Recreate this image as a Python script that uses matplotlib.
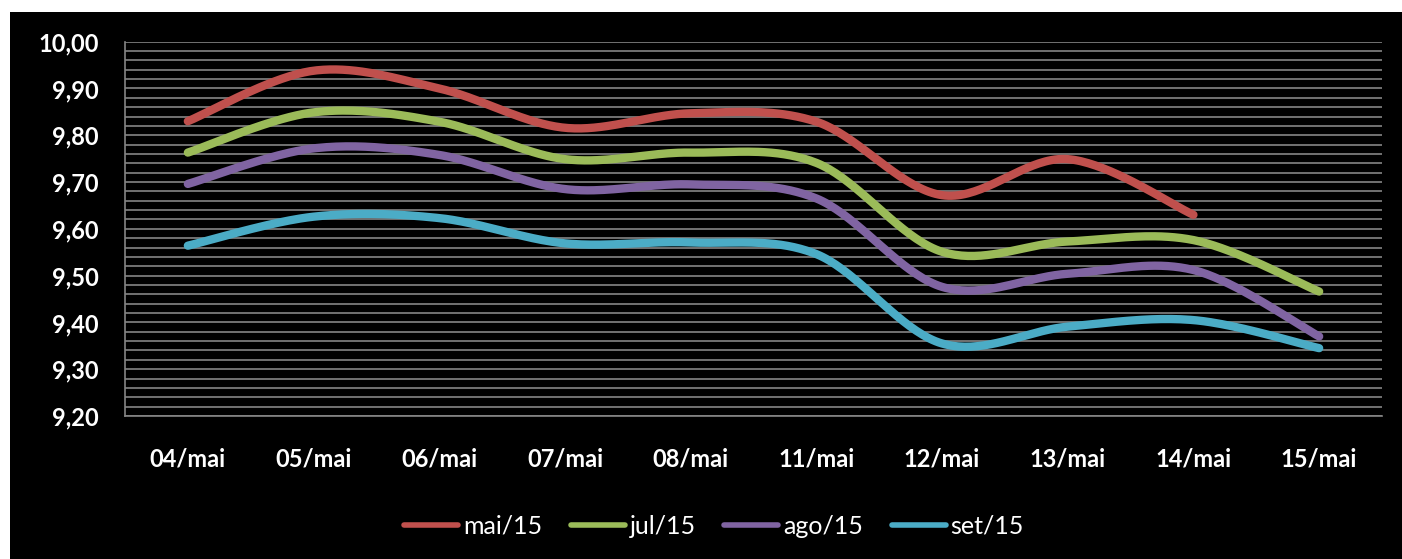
import numpy as np
import matplotlib
matplotlib.use("Agg")
import matplotlib.pyplot as plt
from matplotlib.patches import Rectangle
from matplotlib.ticker import MultipleLocator, FuncFormatter
from matplotlib.lines import Line2D

# Dates on the horizontal axis
categories = ["04/mai", "05/mai", "06/mai", "07/mai", "08/mai",
              "11/mai", "12/mai", "13/mai", "14/mai", "15/mai"]

# Contract prices per maturity (None = no quote)
mai15 = [9.830, 9.938, 9.900, 9.816, 9.847, 9.829, 9.672, 9.749, 9.630, None]
jul15 = [9.763, 9.849, 9.829, 9.749, 9.763, 9.741, 9.551, 9.573, 9.576, 9.466]
ago15 = [9.696, 9.772, 9.758, 9.685, 9.695, 9.665, 9.476, 9.504, 9.512, 9.370]
set15 = [9.564, 9.626, 9.623, 9.569, 9.571, 9.546, 9.355, 9.391, 9.405, 9.345]

series_names = ["mai/15", "jul/15", "ago/15", "set/15"]
series_values = [mai15, jul15, ago15, set15]
series_colors = ["#C0504D", "#9BBB59", "#8064A2", "#4BACC6"]

FONT = ["Lato", "DejaVu Sans"]


def smooth(xs, ys, steps=40):
    """Cubic Bezier smoothing through every point (Catmull-Rom style)."""
    xs = np.asarray(xs, float)
    ys = np.asarray(ys, float)
    n = len(xs)
    px = np.concatenate([[xs[0]], xs, [xs[-1]]])
    py = np.concatenate([[ys[0]], ys, [ys[-1]]])
    out_x, out_y = [], []
    t = np.linspace(0, 1, steps)
    for i in range(n - 1):
        p0 = np.array([px[i], py[i]])
        p1 = np.array([px[i + 1], py[i + 1]])
        p2 = np.array([px[i + 2], py[i + 2]])
        p3 = np.array([px[i + 3], py[i + 3]])
        c1 = p1 + (p2 - p0) / 6.0
        c2 = p2 - (p3 - p1) / 6.0
        b = (((1 - t) ** 3)[:, None] * p1 + (3 * (1 - t) ** 2 * t)[:, None] * c1
             + (3 * (1 - t) * t ** 2)[:, None] * c2 + (t ** 3)[:, None] * p2)
        if i > 0:
            b = b[1:]
        out_x.extend(b[:, 0])
        out_y.extend(b[:, 1])
    return np.array(out_x), np.array(out_y)


fig = plt.figure(figsize=(14.02, 5.59), dpi=100, facecolor="white")
# black chart area
fig.patches.append(Rectangle((10 / 1402, 0), 1 - 10 / 1402, 1 - 12 / 559,
                             transform=fig.transFigure, facecolor="black",
                             edgecolor="none", zorder=-5))

ax = fig.add_axes([125 / 1402, 143 / 559, (1382 - 125) / 1402, (416 - 41.7) / 559])
ax.set_zorder(2)
ax.set_facecolor("black")

x_idx = np.arange(len(categories))
for name, vals, col in zip(series_names, series_values, series_colors):
    pts = [(x, v) for x, v in zip(x_idx, vals) if v is not None]
    xs, ys = zip(*pts)
    sx, sy = smooth(xs, ys)
    ax.plot(sx, sy, color=col, lw=6.0, solid_capstyle="round",
            solid_joinstyle="round", zorder=3)

ax.set_xlim(-0.5, len(categories) - 0.5)
ax.set_ylim(9.20, 10.00)
ax.set_xticks(x_idx)
ax.set_xticklabels(categories)
ax.yaxis.set_major_locator(MultipleLocator(0.1))
ax.yaxis.set_minor_locator(MultipleLocator(0.02))
ax.yaxis.set_major_formatter(FuncFormatter(lambda v, p: f"{v:.2f}".replace(".", ",")))
ax.grid(axis="y", which="both", color="#858585", lw=1.2, zorder=1)
ax.set_axisbelow(True)

for side in ["top", "right"]:
    ax.spines[side].set_visible(False)
for side in ["left", "bottom"]:
    ax.spines[side].set_color("#858585")
    ax.spines[side].set_linewidth(1.2)

ax.tick_params(axis="both", which="both", length=0)
ax.tick_params(axis="y", pad=19)
ax.tick_params(axis="x", pad=23)
for lbl in ax.get_xticklabels() + ax.get_yticklabels():
    lbl.set_family(FONT)
    lbl.set_fontweight("bold")
    lbl.set_fontsize(17)
    lbl.set_color("white")

handles = [Line2D([], [], color=c, lw=4.0, solid_capstyle="round") for c in series_colors]
leg = fig.legend(handles, series_names, loc="center", bbox_to_anchor=(714 / 1402, 33 / 559),
                 ncol=4, frameon=False, handlelength=2.15, handletextpad=0.2,
                 columnspacing=1.15, prop={"family": FONT, "size": 18})
leg.set_zorder(3)
for t in leg.get_texts():
    t.set_color("white")

fig.savefig("out.png", dpi=100, facecolor="white")
